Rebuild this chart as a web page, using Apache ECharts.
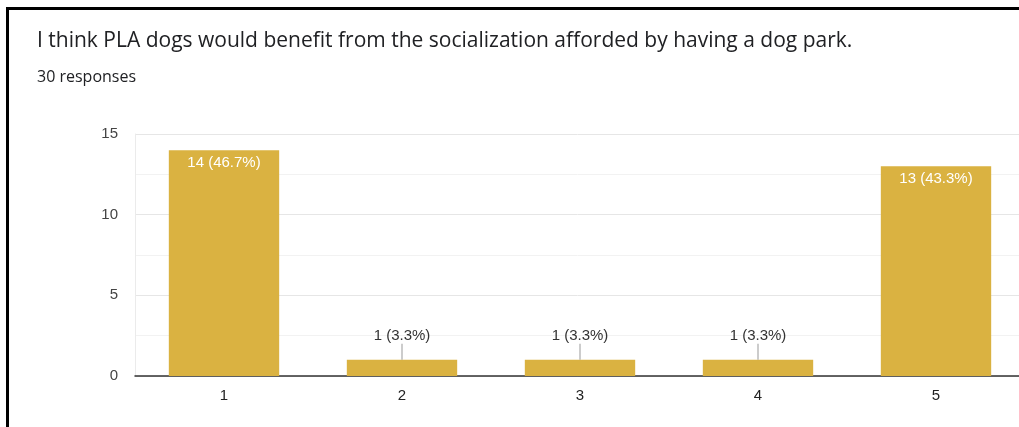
<!DOCTYPE html>
<html>
<head>
<meta charset="utf-8">
<script src="https://cdn.jsdelivr.net/npm/echarts@6/dist/echarts.min.js"></script>
<style>
  html, body { margin: 0; padding: 0; background: #fff; }
  #wrap { position: relative; width: 1019px; height: 427px; overflow: hidden; }
  #frame { position: absolute; left: 6px; top: 7px; right: -10px; bottom: -10px;
           border-left: 3px solid #000; border-top: 3px solid #000; }
  #chart { position: absolute; left: 0; top: 0; width: 1019px; height: 427px; }
</style>
</head>
<body>
<div id="wrap">
  <div id="frame"></div>
  <div id="chart"></div>
</div>
<script>
var categories = ['1', '2', '3', '4', '5'];
var counts = [14, 1, 1, 1, 13];
var percents = ['46.7%', '3.3%', '3.3%', '3.3%', '43.3%'];
var yTicks = [0, 5, 10, 15];

var barColor = '#dab241';

var seriesData = counts.map(function (v, i) {
    var item = { value: v };
    if (v < 3) {
        // small bars get the label above, with a short leader line
        item.label = {
            position: 'top',
            distance: 0,
            formatter: '{t|' + v + ' (' + percents[i] + ')}\n{l|}',
            rich: {
                t: { fontSize: 15, color: '#333', fontFamily: 'Liberation Sans', lineHeight: 15, padding: [0, 0, 2, 0] },
                l: { width: 1, height: 16, backgroundColor: '#9a9a9a' }
            }
        };
    }
    return item;
});

var chart = echarts.init(document.getElementById('chart'));
chart.setOption({
    animation: false,
    title: {
        text: 'I think PLA dogs would benefit from the socialization afforded by having a dog park.',
        subtext: '30 responses',
        left: 32,
        top: 26,
        itemGap: 17,
        textStyle: { fontFamily: 'Open Sans', fontSize: 21, fontWeight: 'normal', color: '#202124' },
        subtextStyle: { fontFamily: 'Open Sans', fontSize: 16, color: '#202124' }
    },
    grid: { left: 135, width: 890, top: 134, bottom: 51, outerBoundsMode: 'none' },
    xAxis: {
        type: 'category',
        data: categories,
        axisTick: { show: false },
        axisLine: { lineStyle: { color: '#333', width: 1.5 } },
        axisLabel: { color: '#222', fontSize: 15, fontFamily: 'Liberation Sans', margin: 12 }
    },
    yAxis: {
        type: 'value',
        min: yTicks[0],
        max: yTicks[yTicks.length - 1],
        interval: 5,
        axisLine: { show: true, lineStyle: { color: '#ebebeb' } },
        axisLabel: { color: '#444', fontSize: 15, fontFamily: 'Liberation Sans', margin: 17 },
        splitLine: { lineStyle: { color: '#e6e6e6' } },
        minorTick: { show: false, splitNumber: 2 },
        minorSplitLine: { show: true, lineStyle: { color: '#f2f2f2' } }
    },
    series: [{
        type: 'bar',
        data: seriesData,
        barWidth: '62%',
        itemStyle: { color: barColor },
        label: {
            show: true,
            position: 'insideTop',
            distance: 5,
            color: '#fff',
            fontSize: 15,
            fontFamily: 'Liberation Sans',
            formatter: function (p) {
                return p.value + ' (' + percents[p.dataIndex] + ')';
            }
        }
    }]
});
</script>
</body>
</html>
